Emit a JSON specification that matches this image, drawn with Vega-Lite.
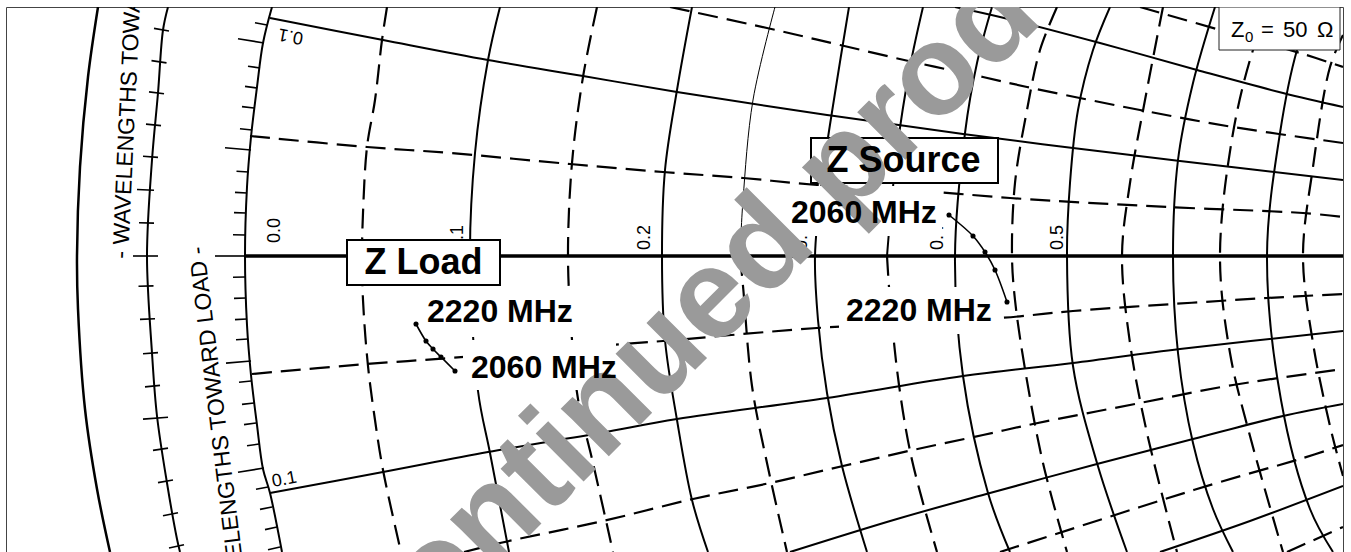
{
  "$schema": "https://vega.github.io/schema/vega-lite/v6.json",
  "width": 1337,
  "height": 546,
  "autosize": {"type": "none"},
  "padding": {"left": 6, "top": 7, "right": 8, "bottom": 0},
  "background": "white",
  "config": {"view": {"stroke": "#444", "strokeWidth": 1}, "font": "Liberation Sans"},
  "datasets": {
    "grid": [
      {"c":"out","k":"outer","i":0,"x":98,"y":7},{"c":"out","k":"outer","i":1,"x":88,"y":77},{"c":"out","k":"outer","i":2,"x":80,"y":167},{"c":"out","k":"outer","i":3,"x":77,"y":256},{"c":"out","k":"outer","i":4,"x":78,"y":309},{"c":"out","k":"outer","i":5,"x":85,"y":409},{"c":"out","k":"outer","i":6,"x":97,"y":489},{"c":"out","k":"outer","i":7,"x":110,"y":552},
      {"c":"mid","k":"rim","i":0,"x":168,"y":7},{"c":"mid","k":"rim","i":1,"x":163,"y":30},{"c":"mid","k":"rim","i":2,"x":158,"y":93},{"c":"mid","k":"rim","i":3,"x":152,"y":160},{"c":"mid","k":"rim","i":4,"x":147,"y":256},{"c":"mid","k":"rim","i":5,"x":152,"y":353},{"c":"mid","k":"rim","i":6,"x":157,"y":416},{"c":"mid","k":"rim","i":7,"x":167,"y":483},{"c":"mid","k":"rim","i":8,"x":177,"y":539},{"c":"mid","k":"rim","i":9,"x":180,"y":552},
      {"c":"bnd","k":"rim","i":0,"x":272,"y":7},{"c":"bnd","k":"rim","i":1,"x":263,"y":43},{"c":"bnd","k":"rim","i":2,"x":257,"y":87},{"c":"bnd","k":"rim","i":3,"x":251,"y":137},{"c":"bnd","k":"rim","i":4,"x":247,"y":187},{"c":"bnd","k":"rim","i":5,"x":245,"y":256},{"c":"bnd","k":"rim","i":6,"x":247,"y":325},{"c":"bnd","k":"rim","i":7,"x":251,"y":375},{"c":"bnd","k":"rim","i":8,"x":257,"y":425},{"c":"bnd","k":"rim","i":9,"x":263,"y":469},{"c":"bnd","k":"rim","i":10,"x":270,"y":493},{"c":"bnd","k":"rim","i":11,"x":282,"y":552},
      {"c":"r05","k":"minor","i":0,"x":387,"y":7},{"c":"r05","k":"minor","i":1,"x":382,"y":40},{"c":"r05","k":"minor","i":2,"x":375,"y":100},{"c":"r05","k":"minor","i":3,"x":367,"y":147},{"c":"r05","k":"minor","i":4,"x":363,"y":213},{"c":"r05","k":"minor","i":5,"x":362,"y":256},{"c":"r05","k":"minor","i":6,"x":363,"y":300},{"c":"r05","k":"minor","i":7,"x":368,"y":366},{"c":"r05","k":"minor","i":8,"x":375,"y":420},{"c":"r05","k":"minor","i":9,"x":383,"y":470},{"c":"r05","k":"minor","i":10,"x":401,"y":552},
      {"c":"r10","k":"major","i":0,"x":500,"y":7},{"c":"r10","k":"major","i":1,"x":488,"y":60},{"c":"r10","k":"major","i":2,"x":475,"y":153},{"c":"r10","k":"major","i":3,"x":470,"y":256},{"c":"r10","k":"major","i":4,"x":478,"y":391},{"c":"r10","k":"major","i":5,"x":490,"y":453},{"c":"r10","k":"major","i":6,"x":509,"y":552},
      {"c":"r15","k":"minor","i":0,"x":597,"y":7},{"c":"r15","k":"minor","i":1,"x":583,"y":77},{"c":"r15","k":"minor","i":2,"x":572,"y":163},{"c":"r15","k":"minor","i":3,"x":568,"y":256},{"c":"r15","k":"minor","i":4,"x":572,"y":340},{"c":"r15","k":"minor","i":5,"x":578,"y":399},{"c":"r15","k":"minor","i":6,"x":593,"y":463},{"c":"r15","k":"minor","i":7,"x":613,"y":552},
      {"c":"r20","k":"major","i":0,"x":692,"y":7},{"c":"r20","k":"major","i":1,"x":677,"y":90},{"c":"r20","k":"major","i":2,"x":665,"y":170},{"c":"r20","k":"major","i":3,"x":662,"y":256},{"c":"r20","k":"major","i":4,"x":665,"y":340},{"c":"r20","k":"major","i":5,"x":677,"y":420},{"c":"r20","k":"major","i":6,"x":692,"y":500},{"c":"r20","k":"major","i":7,"x":708,"y":552},
      {"c":"r25a","k":"thin","i":0,"x":775,"y":7},{"c":"r25a","k":"thin","i":1,"x":753,"y":100},{"c":"r25a","k":"thin","i":2,"x":743,"y":200},{"c":"r25a","k":"thin","i":3,"x":740,"y":256},
      {"c":"r25b","k":"minor","i":0,"x":740,"y":256},{"c":"r25b","k":"minor","i":1,"x":743,"y":286},{"c":"r25b","k":"minor","i":2,"x":752,"y":386},{"c":"r25b","k":"minor","i":3,"x":767,"y":463},{"c":"r25b","k":"minor","i":4,"x":787,"y":552},
      {"c":"r30","k":"major","i":0,"x":849,"y":7},{"c":"r30","k":"major","i":1,"x":835,"y":93},{"c":"r30","k":"major","i":2,"x":822,"y":180},{"c":"r30","k":"major","i":3,"x":815,"y":256},{"c":"r30","k":"major","i":4,"x":818,"y":320},{"c":"r30","k":"major","i":5,"x":827,"y":393},{"c":"r30","k":"major","i":6,"x":842,"y":466},{"c":"r30","k":"major","i":7,"x":867,"y":552},
      {"c":"r35a","k":"major","i":0,"x":923,"y":7},{"c":"r35a","k":"major","i":1,"x":910,"y":67},{"c":"r35a","k":"major","i":2,"x":897,"y":150},{"c":"r35a","k":"major","i":3,"x":887,"y":256},
      {"c":"r35b","k":"minor","i":0,"x":887,"y":256},{"c":"r35b","k":"minor","i":1,"x":890,"y":300},{"c":"r35b","k":"minor","i":2,"x":899,"y":385},{"c":"r35b","k":"minor","i":3,"x":912,"y":460},{"c":"r35b","k":"minor","i":4,"x":937,"y":552},
      {"c":"r40","k":"major","i":0,"x":992,"y":7},{"c":"r40","k":"major","i":1,"x":977,"y":63},{"c":"r40","k":"major","i":2,"x":965,"y":133},{"c":"r40","k":"major","i":3,"x":955,"y":256},{"c":"r40","k":"major","i":4,"x":963,"y":376},{"c":"r40","k":"major","i":5,"x":988,"y":493},{"c":"r40","k":"major","i":6,"x":1010,"y":552},
      {"c":"r45","k":"minor","i":0,"x":1057,"y":7},{"c":"r45","k":"minor","i":1,"x":1040,"y":50},{"c":"r45","k":"minor","i":2,"x":1027,"y":110},{"c":"r45","k":"minor","i":3,"x":1015,"y":183},{"c":"r45","k":"minor","i":4,"x":1012,"y":256},{"c":"r45","k":"minor","i":5,"x":1015,"y":300},{"c":"r45","k":"minor","i":6,"x":1025,"y":369},{"c":"r45","k":"minor","i":7,"x":1043,"y":463},{"c":"r45","k":"minor","i":8,"x":1067,"y":552},
      {"c":"r50","k":"major","i":0,"x":1110,"y":7},{"c":"r50","k":"major","i":1,"x":1093,"y":50},{"c":"r50","k":"major","i":2,"x":1078,"y":110},{"c":"r50","k":"major","i":3,"x":1070,"y":183},{"c":"r50","k":"major","i":4,"x":1067,"y":256},{"c":"r50","k":"major","i":5,"x":1073,"y":366},{"c":"r50","k":"major","i":6,"x":1097,"y":463},{"c":"r50","k":"major","i":7,"x":1127,"y":552},
      {"c":"r55","k":"minor","i":0,"x":1163,"y":7},{"c":"r55","k":"minor","i":1,"x":1145,"y":100},{"c":"r55","k":"minor","i":2,"x":1130,"y":183},{"c":"r55","k":"minor","i":3,"x":1122,"y":256},{"c":"r55","k":"minor","i":4,"x":1130,"y":343},{"c":"r55","k":"minor","i":5,"x":1147,"y":433},{"c":"r55","k":"minor","i":6,"x":1177,"y":552},
      {"c":"r60","k":"major","i":0,"x":1215,"y":7},{"c":"r60","k":"major","i":1,"x":1193,"y":83},{"c":"r60","k":"major","i":2,"x":1178,"y":160},{"c":"r60","k":"major","i":3,"x":1173,"y":256},{"c":"r60","k":"major","i":4,"x":1178,"y":353},{"c":"r60","k":"major","i":5,"x":1193,"y":443},{"c":"r60","k":"major","i":6,"x":1213,"y":509},{"c":"r60","k":"major","i":7,"x":1233,"y":552},
      {"c":"r65","k":"minor","i":0,"x":1270,"y":7},{"c":"r65","k":"minor","i":1,"x":1253,"y":50},{"c":"r65","k":"minor","i":2,"x":1233,"y":133},{"c":"r65","k":"minor","i":3,"x":1220,"y":256},{"c":"r65","k":"minor","i":4,"x":1230,"y":353},{"c":"r65","k":"minor","i":5,"x":1250,"y":436},{"c":"r65","k":"minor","i":6,"x":1283,"y":552},
      {"c":"r70","k":"major","i":0,"x":1313,"y":7},{"c":"r70","k":"major","i":1,"x":1297,"y":50},{"c":"r70","k":"major","i":2,"x":1280,"y":133},{"c":"r70","k":"major","i":3,"x":1267,"y":256},{"c":"r70","k":"major","i":4,"x":1281,"y":400},{"c":"r70","k":"major","i":5,"x":1310,"y":509},{"c":"r70","k":"major","i":6,"x":1333,"y":552},
      {"c":"r75","k":"minor","i":0,"x":1343,"y":35},{"c":"r75","k":"minor","i":1,"x":1330,"y":67},{"c":"r75","k":"minor","i":2,"x":1313,"y":167},{"c":"r75","k":"minor","i":3,"x":1303,"y":256},{"c":"r75","k":"minor","i":4,"x":1313,"y":343},{"c":"r75","k":"minor","i":5,"x":1330,"y":426},{"c":"r75","k":"minor","i":6,"x":1343,"y":476},
      {"c":"x1u","k":"major","i":0,"x":270,"y":18},{"c":"x1u","k":"major","i":1,"x":383,"y":40},{"c":"x1u","k":"major","i":2,"x":488,"y":60},{"c":"x1u","k":"major","i":3,"x":583,"y":76},{"c":"x1u","k":"major","i":4,"x":677,"y":92},{"c":"x1u","k":"major","i":5,"x":827,"y":115},{"c":"x1u","k":"major","i":6,"x":963,"y":134},{"c":"x1u","k":"major","i":7,"x":1073,"y":148},{"c":"x1u","k":"major","i":8,"x":1180,"y":161},{"c":"x1u","k":"major","i":9,"x":1343,"y":180},
      {"c":"x1l","k":"major","i":0,"x":270,"y":493},{"c":"x1l","k":"major","i":1,"x":383,"y":472},{"c":"x1l","k":"major","i":2,"x":488,"y":452},{"c":"x1l","k":"major","i":3,"x":600,"y":433},{"c":"x1l","k":"major","i":4,"x":677,"y":419},{"c":"x1l","k":"major","i":5,"x":827,"y":398},{"c":"x1l","k":"major","i":6,"x":963,"y":376},{"c":"x1l","k":"major","i":7,"x":1073,"y":363},{"c":"x1l","k":"major","i":8,"x":1180,"y":349},{"c":"x1l","k":"major","i":9,"x":1343,"y":331},
      {"c":"x2u","k":"major","i":0,"x":955,"y":7},{"c":"x2u","k":"major","i":1,"x":1000,"y":17},{"c":"x2u","k":"major","i":2,"x":1100,"y":43},{"c":"x2u","k":"major","i":3,"x":1197,"y":70},{"c":"x2u","k":"major","i":4,"x":1283,"y":93},{"c":"x2u","k":"major","i":5,"x":1343,"y":107},
      {"c":"x2l","k":"major","i":0,"x":790,"y":552},{"c":"x2l","k":"major","i":1,"x":897,"y":519},{"c":"x2l","k":"major","i":2,"x":990,"y":493},{"c":"x2l","k":"major","i":3,"x":1097,"y":464},{"c":"x2l","k":"major","i":4,"x":1193,"y":439},{"c":"x2l","k":"major","i":5,"x":1283,"y":416},{"c":"x2l","k":"major","i":6,"x":1343,"y":404},
      {"c":"x3l","k":"major","i":0,"x":1160,"y":552},{"c":"x3l","k":"major","i":1,"x":1250,"y":521},{"c":"x3l","k":"major","i":2,"x":1343,"y":486},
      {"c":"d1u","k":"minor","i":0,"x":250,"y":136},{"c":"d1u","k":"minor","i":1,"x":367,"y":147},{"c":"d1u","k":"minor","i":2,"x":450,"y":153},{"c":"d1u","k":"minor","i":3,"x":570,"y":164},{"c":"d1u","k":"minor","i":4,"x":663,"y":172},{"c":"d1u","k":"minor","i":5,"x":743,"y":178},{"c":"d1u","k":"minor","i":6,"x":817,"y":185},{"c":"d1u","k":"minor","i":7,"x":923,"y":191},{"c":"d1u","k":"minor","i":8,"x":1010,"y":198},{"c":"d1u","k":"minor","i":9,"x":1167,"y":207},{"c":"d1u","k":"minor","i":10,"x":1303,"y":213},{"c":"d1u","k":"minor","i":11,"x":1343,"y":217},
      {"c":"d1l","k":"minor","i":0,"x":252,"y":374},{"c":"d1l","k":"minor","i":1,"x":367,"y":364},{"c":"d1l","k":"minor","i":2,"x":450,"y":358},{"c":"d1l","k":"minor","i":3,"x":570,"y":348},{"c":"d1l","k":"minor","i":4,"x":663,"y":341},{"c":"d1l","k":"minor","i":5,"x":743,"y":334},{"c":"d1l","k":"minor","i":6,"x":817,"y":328},{"c":"d1l","k":"minor","i":7,"x":1000,"y":318},{"c":"d1l","k":"minor","i":8,"x":1073,"y":311},{"c":"d1l","k":"minor","i":9,"x":1173,"y":304},{"c":"d1l","k":"minor","i":10,"x":1267,"y":298},{"c":"d1l","k":"minor","i":11,"x":1343,"y":294},
      {"c":"d2u","k":"minor","i":0,"x":670,"y":7},{"c":"d2u","k":"minor","i":1,"x":767,"y":28},{"c":"d2u","k":"minor","i":2,"x":840,"y":45},{"c":"d2u","k":"minor","i":3,"x":913,"y":62},{"c":"d2u","k":"minor","i":4,"x":983,"y":77},{"c":"d2u","k":"minor","i":5,"x":1027,"y":87},{"c":"d2u","k":"minor","i":6,"x":1140,"y":110},{"c":"d2u","k":"minor","i":7,"x":1233,"y":127},{"c":"d2u","k":"minor","i":8,"x":1343,"y":143},
      {"c":"d2l","k":"minor","i":0,"x":464,"y":552},{"c":"d2l","k":"minor","i":1,"x":500,"y":543},{"c":"d2l","k":"minor","i":2,"x":603,"y":521},{"c":"d2l","k":"minor","i":3,"x":693,"y":499},{"c":"d2l","k":"minor","i":4,"x":770,"y":483},{"c":"d2l","k":"minor","i":5,"x":843,"y":466},{"c":"d2l","k":"minor","i":6,"x":913,"y":450},{"c":"d2l","k":"minor","i":7,"x":983,"y":435},{"c":"d2l","k":"minor","i":8,"x":1033,"y":424},{"c":"d2l","k":"minor","i":9,"x":1140,"y":403},{"c":"d2l","k":"minor","i":10,"x":1233,"y":385},{"c":"d2l","k":"minor","i":11,"x":1343,"y":369},
      {"c":"d3u","k":"minor","i":0,"x":1140,"y":7},{"c":"d3u","k":"minor","i":1,"x":1220,"y":30},{"c":"d3u","k":"minor","i":2,"x":1300,"y":53},{"c":"d3u","k":"minor","i":3,"x":1343,"y":67},
      {"c":"d3l","k":"minor","i":0,"x":1000,"y":552},{"c":"d3l","k":"minor","i":1,"x":1140,"y":507},{"c":"d3l","k":"minor","i":2,"x":1220,"y":482},{"c":"d3l","k":"minor","i":3,"x":1300,"y":459},{"c":"d3l","k":"minor","i":4,"x":1343,"y":445},
      {"c":"d4l","k":"minor","i":0,"x":1287,"y":552},{"c":"d4l","k":"minor","i":1,"x":1343,"y":527},
      {"c":"axis","k":"axis","i":0,"x":245,"y":256},{"c":"axis","k":"axis","i":1,"x":1343,"y":256}
    ],
    "ticks": [
      {"x":255,"y":22.7,"x2":267,"y2":25},{"x":238,"y":38.7,"x2":264,"y2":43},{"x":248,"y":66.2,"x2":260,"y2":68},{"x":245,"y":86.4,"x2":257,"y2":88},{"x":242,"y":106.6,"x2":254,"y2":108},{"x":240,"y":128.8,"x2":252,"y2":130},{"x":225,"y":147.8,"x2":251,"y2":150},{"x":236.5,"y":171.2,"x2":248.5,"y2":172},{"x":235,"y":192.4,"x2":247,"y2":193},{"x":234,"y":212.6,"x2":246,"y2":213},{"x":233,"y":234.8,"x2":245,"y2":235},{"x":215,"y":256,"x2":245,"y2":256},
      {"x":233,"y":277.2,"x2":245,"y2":277},{"x":234,"y":298.4,"x2":246,"y2":298},{"x":235,"y":319.6,"x2":247,"y2":319},{"x":236,"y":339.8,"x2":248,"y2":339},{"x":226,"y":363.1,"x2":251,"y2":361},{"x":239,"y":382.2,"x2":251,"y2":381},{"x":242,"y":404.4,"x2":254,"y2":403},{"x":244,"y":424.6,"x2":256,"y2":423},{"x":247,"y":445.8,"x2":259,"y2":444},{"x":238,"y":472.3,"x2":264,"y2":468},{"x":256,"y":489.2,"x2":268,"y2":487},{"x":260,"y":509.4,"x2":272,"y2":507},{"x":265,"y":529.6,"x2":277,"y2":527},{"x":268,"y":549.8,"x2":280,"y2":547},
      {"x":154,"y":28.4,"x2":169,"y2":31},{"x":151.5,"y":60.6,"x2":166.5,"y2":62.9},{"x":149,"y":91.9,"x2":164,"y2":93.7},{"x":146,"y":124.1,"x2":161,"y2":125.6},{"x":143,"y":156.3,"x2":158,"y2":157.4},{"x":137,"y":189.5,"x2":154,"y2":190.3},{"x":139,"y":222.8,"x2":154,"y2":223.1},{"x":133,"y":256,"x2":158,"y2":256},
      {"x":138.5,"y":286.2,"x2":153.5,"y2":285.9},{"x":140,"y":319.4,"x2":155,"y2":318.7},{"x":143,"y":353.7,"x2":158,"y2":352.6},{"x":145,"y":386.9,"x2":160,"y2":385.4},{"x":143,"y":419.1,"x2":168,"y2":417.3},{"x":153,"y":450.4,"x2":168,"y2":448.1},{"x":158,"y":482.6,"x2":173,"y2":480},{"x":163,"y":515.8,"x2":178,"y2":512.8},{"x":169,"y":548,"x2":184,"y2":544.7}
    ],
    "rlabels": [
      {"t":"0.0","x":280,"y":243},{"t":"0.1","x":463,"y":250},{"t":"0.2","x":650,"y":250},{"t":"0.3","x":807,"y":250},{"t":"0.4","x":943,"y":250},{"t":"0.5","x":1063,"y":250}
    ],
    "notes": [
      {"n":"xlow","t":"0.1","x":273,"y":487},
      {"n":"xup","t":"0.1","x":304,"y":33},
      {"n":"gen","t":"- WAVELENGTHS TOWARD GENERATOR -","x":128,"y":259},
      {"n":"load","t":"- WAVELENGTHS TOWARD LOAD -","x":204,"y":246}
    ],
    "boxes": [
      {"b":"l2220","k":"label","x":420,"x2":578,"y":286,"y2":337},
      {"b":"l2060","k":"label","x":463,"x2":616,"y":340,"y2":390},
      {"b":"s2060","k":"label","x":786,"x2":942,"y":186,"y2":236},
      {"b":"s2220","k":"label","x":839,"x2":995,"y":287,"y2":334},
      {"b":"Z Load","k":"title","x":347,"x2":500,"y":240,"y2":285},
      {"b":"Z Source","k":"title","x":811,"x2":998,"y":138,"y2":183},
      {"b":"Z0","k":"note","x":1219,"x2":1340,"y":7,"y2":50}
    ],
    "trace": [
      {"s":"load","f":2220,"x":416,"y":324},{"s":"load","f":2180,"x":426,"y":341},{"s":"load","f":2140,"x":433,"y":349},{"s":"load","f":2100,"x":441,"y":357},{"s":"load","f":2060,"x":455,"y":371},
      {"s":"source","f":2060,"x":949,"y":215},{"s":"source","f":2100,"x":973,"y":236},{"s":"source","f":2140,"x":985,"y":252},{"s":"source","f":2180,"x":995,"y":270},{"s":"source","f":2220,"x":1007,"y":302}
    ],
    "freq": [
      {"t":"2220 MHz","x":427,"y":322},{"t":"2060 MHz","x":471,"y":378},{"t":"2060 MHz","x":791,"y":223},{"t":"2220 MHz","x":846,"y":321}
    ],
    "titles": [
      {"t":"Z Load","x":423.5,"y":274},{"t":"Z Source","x":903.5,"y":172}
    ],
    "z0": [
      {"t":"Z","p":"main","x":1231,"y":37},{"t":"0","p":"sub","x":1245,"y":42},{"t":"=","p":"main","x":1261,"y":37},{"t":"50","p":"main","x":1283,"y":37},{"t":"Ω","p":"main","x":1317,"y":37}
    ],
    "mark": [
      {"t":"Discontinued product","x":713,"y":352}
    ]
  },
  "layer": [
    {"data":{"name":"grid"},"transform":[{"filter":"datum.k==='outer'"}],"mark":{"type":"line","interpolate":"catmull-rom","stroke":"black","strokeWidth":2.5,"clip":true},
     "encoding":{"x":{"field":"x","type":"quantitative","scale":{"domain":[6,1343],"nice":false,"zero":false},"axis":null},"y":{"field":"y","type":"quantitative","scale":{"domain":[7,553],"nice":false,"zero":false,"reverse":true},"axis":null},"detail":{"field":"c"},"order":{"field":"i"}}},
    {"data":{"name":"grid"},"transform":[{"filter":"datum.k==='rim'"}],"mark":{"type":"line","interpolate":"catmull-rom","stroke":"black","strokeWidth":2,"clip":true},
     "encoding":{"x":{"field":"x","type":"quantitative"},"y":{"field":"y","type":"quantitative"},"detail":{"field":"c"},"order":{"field":"i"}}},
    {"data":{"name":"grid"},"transform":[{"filter":"datum.k==='major'"}],"mark":{"type":"line","interpolate":"catmull-rom","stroke":"black","strokeWidth":2,"clip":true},
     "encoding":{"x":{"field":"x","type":"quantitative"},"y":{"field":"y","type":"quantitative"},"detail":{"field":"c"},"order":{"field":"i"}}},
    {"data":{"name":"grid"},"transform":[{"filter":"datum.k==='thin'"}],"mark":{"type":"line","interpolate":"catmull-rom","stroke":"black","strokeWidth":1,"clip":true},
     "encoding":{"x":{"field":"x","type":"quantitative"},"y":{"field":"y","type":"quantitative"},"detail":{"field":"c"},"order":{"field":"i"}}},
    {"data":{"name":"grid"},"transform":[{"filter":"datum.k==='minor'"}],"mark":{"type":"line","interpolate":"catmull-rom","stroke":"black","strokeWidth":2.2,"strokeDash":[20,9],"clip":true},
     "encoding":{"x":{"field":"x","type":"quantitative"},"y":{"field":"y","type":"quantitative"},"detail":{"field":"c"},"order":{"field":"i"}}},
    {"data":{"name":"grid"},"transform":[{"filter":"datum.k==='axis'"}],"mark":{"type":"line","stroke":"black","strokeWidth":3.5,"clip":true},
     "encoding":{"x":{"field":"x","type":"quantitative"},"y":{"field":"y","type":"quantitative"},"detail":{"field":"c"},"order":{"field":"i"}}},
    {"data":{"name":"ticks"},"mark":{"type":"rule","stroke":"black","strokeWidth":1.6,"clip":true},
     "encoding":{"x":{"field":"x","type":"quantitative"},"y":{"field":"y","type":"quantitative"},"x2":{"field":"x2"},"y2":{"field":"y2"}}},
    {"data":{"name":"rlabels"},"mark":{"type":"text","angle":-90,"align":"left","baseline":"alphabetic","fontSize":18,"font":"Liberation Sans","fill":"black","clip":true},
     "encoding":{"x":{"field":"x","type":"quantitative"},"y":{"field":"y","type":"quantitative"},"text":{"field":"t"}}},
    {"data":{"name":"notes"},"transform":[{"filter":"datum.n==='xlow'"}],"mark":{"type":"text","angle":-10.5,"align":"left","baseline":"alphabetic","fontSize":18,"font":"Liberation Sans","fill":"black","clip":true},
     "encoding":{"x":{"field":"x","type":"quantitative"},"y":{"field":"y","type":"quantitative"},"text":{"field":"t"}}},
    {"data":{"name":"notes"},"transform":[{"filter":"datum.n==='xup'"}],"mark":{"type":"text","angle":190.5,"align":"left","baseline":"alphabetic","fontSize":18,"font":"Liberation Sans","fill":"black","clip":true},
     "encoding":{"x":{"field":"x","type":"quantitative"},"y":{"field":"y","type":"quantitative"},"text":{"field":"t"}}},
    {"data":{"name":"notes"},"transform":[{"filter":"datum.n==='gen'"}],"mark":{"type":"text","angle":-87.3,"align":"left","baseline":"alphabetic","fontSize":23,"font":"Liberation Sans","fill":"black","clip":true},
     "encoding":{"x":{"field":"x","type":"quantitative"},"y":{"field":"y","type":"quantitative"},"text":{"field":"t"}}},
    {"data":{"name":"notes"},"transform":[{"filter":"datum.n==='load'"}],"mark":{"type":"text","angle":-97,"align":"right","baseline":"alphabetic","fontSize":23,"font":"Liberation Sans","fill":"black","clip":true},
     "encoding":{"x":{"field":"x","type":"quantitative"},"y":{"field":"y","type":"quantitative"},"text":{"field":"t"}}},
    {"data":{"name":"boxes"},"transform":[{"filter":"datum.k==='label'"}],"mark":{"type":"rect","fill":"white","stroke":null,"clip":true},
     "encoding":{"x":{"field":"x","type":"quantitative"},"x2":{"field":"x2"},"y":{"field":"y","type":"quantitative"},"y2":{"field":"y2"}}},
    {"data":{"name":"boxes"},"transform":[{"filter":"datum.k==='title'"}],"mark":{"type":"rect","fill":"white","stroke":"black","strokeWidth":2,"clip":true},
     "encoding":{"x":{"field":"x","type":"quantitative"},"x2":{"field":"x2"},"y":{"field":"y","type":"quantitative"},"y2":{"field":"y2"}}},
    {"data":{"name":"boxes"},"transform":[{"filter":"datum.k==='note'"}],"mark":{"type":"rect","fill":"white","stroke":"#222","strokeWidth":1,"clip":true},
     "encoding":{"x":{"field":"x","type":"quantitative"},"x2":{"field":"x2"},"y":{"field":"y","type":"quantitative"},"y2":{"field":"y2"}}},
    {"data":{"name":"trace"},"mark":{"type":"line","interpolate":"catmull-rom","stroke":"black","strokeWidth":1.6},
     "encoding":{"x":{"field":"x","type":"quantitative"},"y":{"field":"y","type":"quantitative"},"detail":{"field":"s"},"order":{"field":"f"}}},
    {"data":{"name":"trace"},"mark":{"type":"point","shape":"circle","filled":true,"fill":"black","size":26,"opacity":1},
     "encoding":{"x":{"field":"x","type":"quantitative"},"y":{"field":"y","type":"quantitative"}}},
    {"data":{"name":"mark"},"mark":{"type":"text","angle":-45,"align":"center","baseline":"alphabetic","fontSize":128,"font":"Liberation Sans","fontWeight":"bold","fill":"#9a9a9a","clip":true},
     "encoding":{"x":{"field":"x","type":"quantitative"},"y":{"field":"y","type":"quantitative"},"text":{"field":"t"}}},
    {"data":{"name":"titles"},"mark":{"type":"text","align":"center","baseline":"alphabetic","fontSize":36,"font":"Liberation Sans","fontWeight":"bold","fill":"black"},
     "encoding":{"x":{"field":"x","type":"quantitative"},"y":{"field":"y","type":"quantitative"},"text":{"field":"t"}}},
    {"data":{"name":"freq"},"mark":{"type":"text","align":"left","baseline":"alphabetic","fontSize":32,"font":"Liberation Sans","fontWeight":"bold","fill":"black"},
     "encoding":{"x":{"field":"x","type":"quantitative"},"y":{"field":"y","type":"quantitative"},"text":{"field":"t"}}},
    {"data":{"name":"z0"},"transform":[{"filter":"datum.p==='main'"}],"mark":{"type":"text","align":"left","baseline":"alphabetic","fontSize":22,"font":"Liberation Sans","fill":"black"},
     "encoding":{"x":{"field":"x","type":"quantitative"},"y":{"field":"y","type":"quantitative"},"text":{"field":"t"}}},
    {"data":{"name":"z0"},"transform":[{"filter":"datum.p==='sub'"}],"mark":{"type":"text","align":"left","baseline":"alphabetic","fontSize":15,"font":"Liberation Sans","fill":"black"},
     "encoding":{"x":{"field":"x","type":"quantitative"},"y":{"field":"y","type":"quantitative"},"text":{"field":"t"}}}
  ]
}
